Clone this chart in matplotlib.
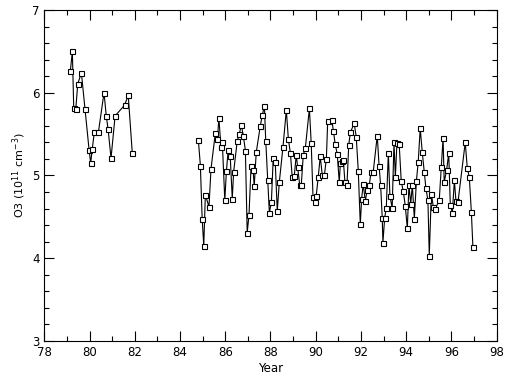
import numpy as np
import matplotlib.pyplot as plt
from matplotlib.ticker import MultipleLocator

# first record, 1979-1982
year1 = [79.15, 79.24, 79.30, 79.39, 79.48, 79.64, 79.80, 79.98, 80.05, 80.12,
         80.21, 80.39, 80.64, 80.74, 80.82, 80.95, 81.13, 81.55, 81.71, 81.89]
o3_1 = [6.26, 6.50, 5.82, 5.80, 6.11, 6.24, 5.80, 5.31, 5.15, 5.32,
        5.52, 5.52, 6.00, 5.72, 5.56, 5.21, 5.72, 5.85, 5.97, 5.27]

# second record, 1984-1997
year2 = [84.81, 84.90, 84.98, 85.05, 85.12, 85.28, 85.37, 85.56, 85.65, 85.72,
         85.81, 85.87, 85.98, 86.05, 86.13, 86.22, 86.31, 86.37, 86.53, 86.62,
         86.71, 86.80, 86.89, 86.97, 87.05, 87.14, 87.23, 87.28, 87.37, 87.55,
         87.64, 87.73, 87.79, 87.88, 87.95, 88.04, 88.12, 88.21, 88.30, 88.39,
         88.55, 88.70, 88.79, 88.88, 88.96, 89.05, 89.14, 89.20, 89.29, 89.36,
         89.45, 89.54, 89.72, 89.80, 89.88, 89.95, 90.02, 90.11, 90.20, 90.29,
         90.38, 90.47, 90.53, 90.71, 90.78, 90.86, 90.95, 91.04, 91.09, 91.17,
         91.22, 91.29, 91.38, 91.46, 91.53, 91.70, 91.79, 91.88, 91.97, 92.03,
         92.10, 92.19, 92.27, 92.37, 92.44, 92.54, 92.72, 92.80, 92.87, 92.94,
         92.97, 93.05, 93.12, 93.21, 93.28, 93.38, 93.46, 93.52, 93.59, 93.69,
         93.78, 93.87, 93.96, 94.05, 94.12, 94.20, 94.27, 94.36, 94.45, 94.53,
         94.62, 94.71, 94.80, 94.87, 94.96, 95.02, 95.11, 95.20, 95.29, 95.46,
         95.55, 95.63, 95.68, 95.79, 95.88, 95.95, 96.04, 96.13, 96.20, 96.29,
         96.61, 96.70, 96.79, 96.88, 96.95]
o3_2 = [5.43, 5.12, 4.47, 4.15, 4.77, 4.62, 5.08, 5.51, 5.44, 5.69,
        5.34, 5.40, 4.70, 5.05, 5.31, 5.23, 4.72, 5.04, 5.42, 5.50,
        5.61, 5.48, 5.30, 4.31, 4.52, 5.11, 5.07, 4.87, 5.28, 5.60,
        5.73, 5.84, 5.42, 4.94, 4.55, 4.68, 5.21, 5.16, 4.57, 4.92,
        5.34, 5.79, 5.44, 5.27, 4.98, 4.99, 5.25, 5.10, 4.89, 4.88,
        5.25, 5.33, 5.81, 5.39, 4.74, 4.68, 4.75, 4.98, 5.23, 5.00,
        5.00, 5.20, 5.66, 5.67, 5.54, 5.38, 5.26, 4.92, 5.15, 5.17,
        5.19, 4.92, 4.88, 5.37, 5.52, 5.63, 5.47, 5.06, 4.41, 4.72,
        4.90, 4.69, 4.82, 4.88, 5.04, 5.04, 5.48, 5.12, 4.88, 4.49,
        4.19, 4.49, 4.61, 5.27, 4.75, 4.61, 5.40, 4.98, 5.39, 5.38,
        4.93, 4.81, 4.63, 4.36, 4.88, 4.66, 4.88, 4.48, 4.93, 5.16,
        5.57, 5.28, 5.04, 4.85, 4.70, 4.03, 4.78, 4.62, 4.60, 4.70,
        5.10, 5.45, 4.92, 5.07, 5.27, 4.64, 4.55, 4.94, 4.69, 4.68,
        5.40, 5.09, 4.98, 4.56, 4.13]

plt.rcParams['font.family'] = 'DejaVu Sans'
fig = plt.figure(figsize=(5.14, 3.79), dpi=100)
ax = fig.add_axes([0.0862, 0.1003, 0.8801, 0.8733])

for yr, val in [(year1, o3_1), (year2, o3_2)]:
    ax.plot(yr, val, color='black', lw=0.8, marker='s', ms=3.6,
            mfc='white', mec='black', mew=0.8)

ax.set_xlim(78, 98)
ax.set_ylim(3, 7)
ax.xaxis.set_major_locator(MultipleLocator(2))
ax.xaxis.set_minor_locator(MultipleLocator(1))
ax.yaxis.set_major_locator(MultipleLocator(1))
ax.yaxis.set_minor_locator(MultipleLocator(0.2))
ax.tick_params(which='both', direction='in', top=True, right=True,
               labelsize=8.5, width=0.8)
ax.tick_params(which='major', length=7)
ax.tick_params(which='minor', length=3.6)
for s in ax.spines.values():
    s.set_linewidth(0.8)

ax.set_xlabel('Year', fontsize=8.5, labelpad=2)
ax.set_ylabel(r'O3 (10$^{11}$ cm$^{-3}$)', fontsize=8, labelpad=3)

fig.savefig('out.png', dpi=100)
